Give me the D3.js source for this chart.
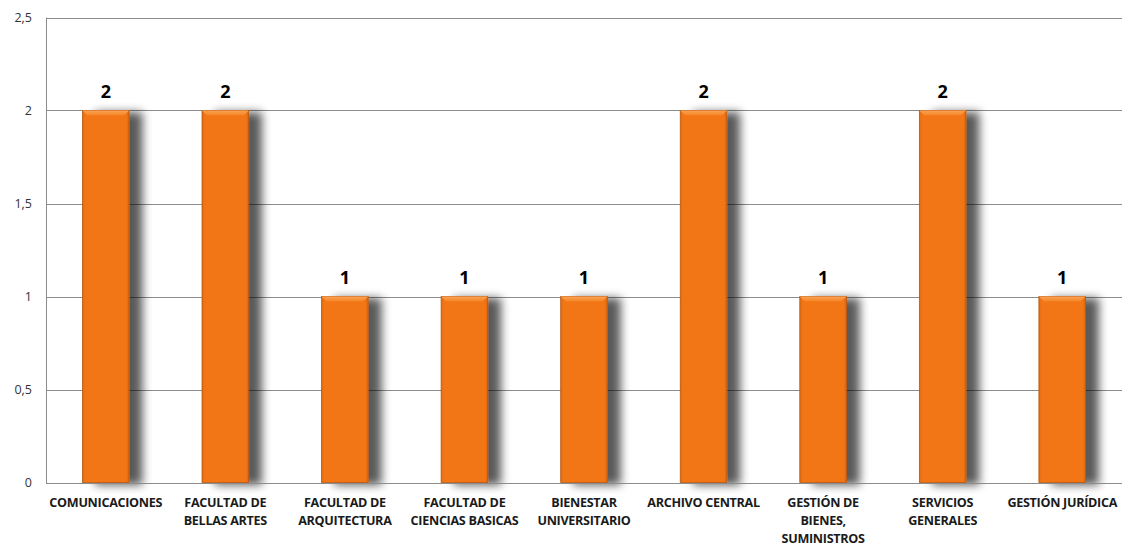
<!DOCTYPE html>
<html><head><meta charset="utf-8">
<script src="https://cdn.jsdelivr.net/npm/d3@7"></script>
<style>body{margin:0;background:#fff}svg{display:block}</style>
</head><body><svg id="c" width="1124" height="546"></svg>
<script>
const categories = [["COMUNICACIONES"],["FACULTAD DE","BELLAS ARTES"],["FACULTAD DE","ARQUITECTURA"],["FACULTAD DE","CIENCIAS BASICAS"],["BIENESTAR","UNIVERSITARIO"],["ARCHIVO CENTRAL"],["GESTIÓN DE","BIENES,","SUMINISTROS"],["SERVICIOS","GENERALES"],["GESTIÓN JURÍDICA"]];
const values = [2,2,1,1,1,2,1,2,1];
const yTicks = [0,0.5,1,1.5,2,2.5];

const svg = d3.select("#c");
const L=46, R=1122, T=17.5, B=482.5;
const x = d3.scaleBand().domain(d3.range(values.length)).range([L,R]).paddingInner(0.61).paddingOuter(0.305);
const y = d3.scaleLinear().domain([0,2.5]).range([B,T]);
const loc = d3.formatLocale({decimal:",",thousands:".",grouping:[3],currency:["",""]});
const fmt = loc.format("~g");

const defs = svg.append("defs");
const g = defs.append("linearGradient").attr("id","bar").attr("x1",0).attr("x2",1).attr("y1",0).attr("y2",0);
g.append("stop").attr("offset","0").attr("stop-color","#E06A10");
g.append("stop").attr("offset","0.06").attr("stop-color","#F27614");
g.append("stop").attr("offset","0.94").attr("stop-color","#F27614");
g.append("stop").attr("offset","1").attr("stop-color","#D9650E");
const tg = defs.append("linearGradient").attr("id","top").attr("x1",0).attr("x2",0).attr("y1",0).attr("y2",1);
tg.append("stop").attr("offset","0").attr("stop-color","#FAA458");
tg.append("stop").attr("offset","1").attr("stop-color","#F58323");
const f = defs.append("filter").attr("id","sh").attr("x","-50%").attr("y","-20%").attr("width","200%").attr("height","140%");
f.append("feGaussianBlur").attr("in","SourceAlpha").attr("stdDeviation",5);
f.append("feOffset").attr("dx",13).attr("dy",2).attr("result","b");
f.append("feComponentTransfer").append("feFuncA").attr("type","linear").attr("slope",0.65);
const m = f.append("feMerge"); m.append("feMergeNode"); m.append("feMergeNode").attr("in","SourceGraphic");

// frame and gridlines
svg.append("g").selectAll("line").data(yTicks).join("line")
  .attr("x1",L).attr("x2",R).attr("y1",d=>Math.round(y(d))+0.5).attr("y2",d=>Math.round(y(d))+0.5)
  .attr("stroke","#8C8C8C").attr("stroke-width",1);
svg.append("line").attr("x1",L+0.5).attr("x2",L+0.5).attr("y1",y(2.5)).attr("y2",y(0)+1).attr("stroke","#8C8C8C");

// y axis labels
svg.append("g").selectAll("text").data(yTicks).join("text")
  .attr("x",32).attr("y",d=>y(d)+4.5).attr("text-anchor","end")
  .attr("font-family","Open Sans, sans-serif").attr("font-size",12.5).attr("fill","#333")
  .text(d=>fmt(d));

// bars
const bars = svg.append("g").selectAll("g").data(values).join("g").attr("filter","url(#sh)");
bars.append("rect").attr("x",(d,i)=>x(i)).attr("width",x.bandwidth())
  .attr("y",d=>y(d)).attr("height",d=>y(0)-y(d))
  .attr("fill","url(#bar)").attr("stroke","#B8560C").attr("stroke-width",0.8);
bars.append("path").attr("d",(d,i)=>{const x0=x(i),w=x.bandwidth(),t=y(d);return `M${x0},${t}H${x0+w}L${x0+w-5},${t+5}H${x0+5}Z`;})
  .attr("fill","url(#top)");
// redraw axis line over shadow
svg.append("line").attr("x1",L).attr("x2",R).attr("y1",Math.round(y(0))+0.5).attr("y2",Math.round(y(0))+0.5).attr("stroke","#8C8C8C");

// value labels
svg.append("g").selectAll("text").data(values).join("text")
  .attr("x",(d,i)=>x(i)+x.bandwidth()/2).attr("y",d=>y(d)-13)
  .attr("text-anchor","middle").attr("font-family","Open Sans, sans-serif").attr("font-weight","bold")
  .attr("font-size",18).attr("fill","#000").text(d=>d);

// category labels
const cl = svg.append("g").selectAll("text").data(categories).join("text")
  .attr("x",(d,i)=>x(i)+x.bandwidth()/2).attr("y",507)
  .attr("text-anchor","middle").attr("font-family","Open Sans, sans-serif").attr("font-weight","bold")
  .attr("font-size",12.6).attr("fill","#1a1a1a").attr("letter-spacing",-0.3);
cl.selectAll("tspan").data(d=>d).join("tspan")
  .attr("x",function(){return this.parentNode.getAttribute("x");}).attr("dy",(d,i)=>i?18:0).text(d=>d);
</script></body></html>
